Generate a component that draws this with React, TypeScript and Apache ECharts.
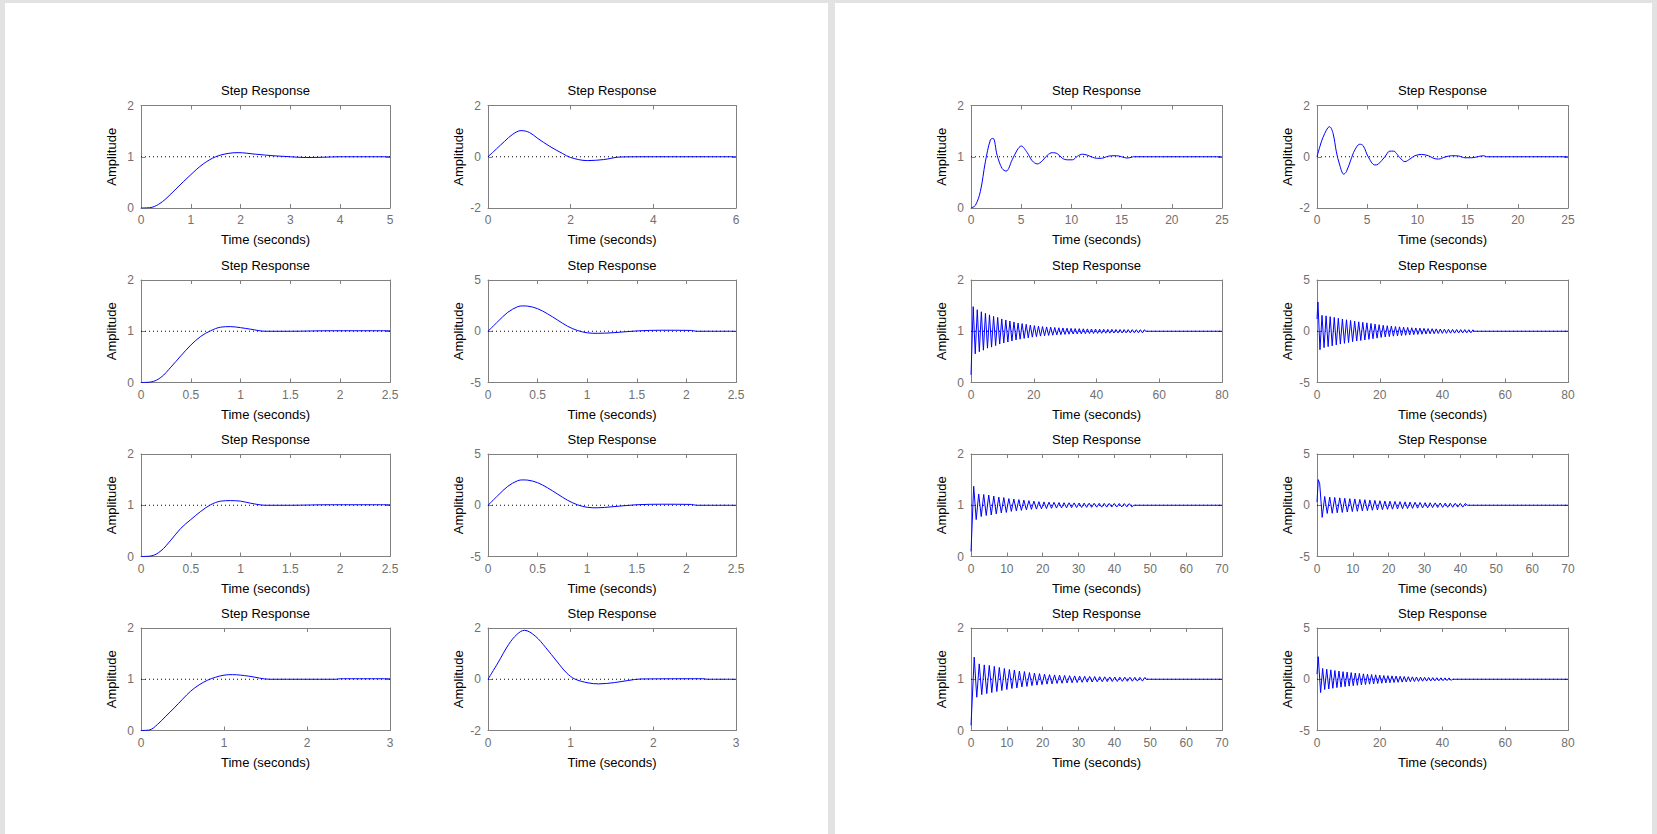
import React, { useEffect, useRef } from "react";
import * as echarts from "echarts";

// ---------- data ----------
const TITLE = "Step Response";
const X_NAME = "Time (seconds)";
const Y_NAME = "Amplitude";

// left figure
const A_T = [0, 0.2, 0.35, 0.5, 0.7, 1.0, 1.25, 1.5, 1.75, 1.95, 2.3, 2.65, 3.0, 3.3, 3.65, 4.0, 5.0];
const A_Y = [0, 0.01, 0.07, 0.18, 0.37, 0.65, 0.86, 1.0, 1.065, 1.08, 1.05, 1.02, 1.0, 0.985, 0.99, 1.0, 1.0];

const B_T = [0, 0.2, 0.4, 0.6, 0.8, 1.0, 1.2, 1.5, 1.8, 2.0, 2.4, 2.8, 3.2, 4.0, 6.0];
const B_Y = [0, 0.3, 0.6, 0.88, 1.02, 0.95, 0.72, 0.4, 0.13, -0.03, -0.15, -0.11, -0.01, 0, 0];

const C_T = [0, 0.1, 0.2, 0.3, 0.4, 0.5, 0.6, 0.7, 0.8, 0.9, 1.0, 1.1, 1.25, 1.5, 1.9, 2.5];
const C_Y = [0, 0.01, 0.1, 0.3, 0.52, 0.73, 0.9, 1.01, 1.08, 1.09, 1.07, 1.04, 1.0, 1.0, 1.01, 1.01];

const D_T = [0, 0.1, 0.2, 0.3, 0.35, 0.4, 0.5, 0.6, 0.7, 0.8, 0.9, 1.0, 1.1, 1.25, 1.5, 1.75, 2.05, 2.1, 2.5];
const D_Y = [0, 0.95, 1.85, 2.4, 2.47, 2.45, 2.2, 1.7, 1.1, 0.5, 0.08, -0.15, -0.2, -0.15, 0.03, 0.1, 0.08, 0, 0];

const E_T = [0, 0.1, 0.2, 0.3, 0.4, 0.5, 0.6, 0.7, 0.8, 0.9, 1.0, 1.1, 1.25, 1.5, 1.9, 2.5];
const E_Y = [0, 0.01, 0.11, 0.32, 0.55, 0.72, 0.88, 1.01, 1.08, 1.09, 1.08, 1.04, 1.0, 1.0, 1.01, 1.01];

const F_T = [0, 0.1, 0.2, 0.3, 0.35, 0.4, 0.5, 0.6, 0.7, 0.8, 0.9, 1.0, 1.1, 1.25, 1.5, 1.75, 2.05, 2.1, 2.5];
const F_Y = [0, 0.95, 1.85, 2.4, 2.47, 2.45, 2.2, 1.7, 1.1, 0.5, 0.05, -0.2, -0.25, -0.15, 0.05, 0.1, 0.08, 0, 0];

const G_T = [0, 0.1, 0.2, 0.3, 0.4, 0.5, 0.6, 0.7, 0.8, 0.9, 1.0, 1.1, 1.3, 1.55, 2.35, 2.4, 3];
const G_Y = [0, 0.01, 0.12, 0.28, 0.44, 0.61, 0.77, 0.89, 0.98, 1.04, 1.08, 1.09, 1.06, 1.0, 1.0, 1.01, 1.01];

const H_T = [0, 0.12, 0.25, 0.35, 0.44, 0.57, 0.7, 0.83, 0.95, 1.05, 1.21, 1.34, 1.53, 1.69, 1.85, 2.6, 2.65, 3];
const H_Y = [0, 0.64, 1.36, 1.75, 1.91, 1.69, 1.23, 0.71, 0.25, 0.01, -0.14, -0.18, -0.13, -0.05, 0.01, 0.02, 0, 0];

// right figure
const I_T = [0, 0.43, 0.93, 1.43, 1.93, 2.2, 2.6, 3.1, 3.5, 4.1, 4.6, 5.0, 5.6, 6.1, 6.6, 7.1, 7.6, 8.1, 8.6, 9.1, 9.6, 10.1, 10.6, 11.1, 11.6, 12.1, 12.5, 13.0, 13.5, 14.0, 14.5, 15.0, 15.5, 16.0, 16.2, 25];
const I_Y = [0, 0.05, 0.32, 0.9, 1.33, 1.36, 1.03, 0.77, 0.72, 0.94, 1.13, 1.21, 1.08, 0.92, 0.86, 0.92, 1.03, 1.08, 1.06, 0.97, 0.94, 0.94, 1.01, 1.05, 1.03, 0.99, 0.97, 0.97, 1.0, 1.02, 1.02, 1.0, 0.975, 0.99, 1.0, 1.0];

const J_T = [0, 0.43, 0.77, 1.1, 1.26, 1.6, 1.93, 2.26, 2.66, 2.93, 3.36, 3.76, 4.26, 4.6, 5.1, 5.76, 6.1, 6.76, 7.26, 7.6, 8.26, 8.76, 9.25, 9.75, 10.4, 11.1, 11.6, 12.1, 12.75, 13.4, 14.1, 14.75, 15.4, 16.1, 16.6, 16.9, 25];
const J_Y = [0, 0.58, 0.91, 1.14, 1.17, 0.91, 0.19, -0.32, -0.68, -0.58, -0.13, 0.26, 0.49, 0.43, 0, -0.32, -0.29, 0, 0.22, 0.22, -0.04, -0.19, -0.09, 0.04, 0.09, 0.04, -0.06, -0.09, -0.01, 0.04, 0.03, -0.04, -0.04, 0.01, 0.04, 0, 0];

const K_T = [0, 0.7, 1.35, 2.0, 2.65, 3.3, 3.95, 4.6, 5.25, 5.9, 6.55, 7.2, 7.85, 8.5, 9.15, 9.8, 10.45, 11.1, 11.75, 12.4, 13.05, 13.7, 14.35, 15.0, 15.65, 16.3, 16.95, 17.6, 18.25, 18.9, 19.55, 20.2, 20.85, 21.5, 22.15, 22.8, 23.45, 24.1, 24.75, 25.4, 26.05, 26.7, 27.35, 28.0, 28.65, 29.3, 29.95, 30.6, 31.25, 31.9, 32.55, 33.2, 33.85, 34.5, 35.15, 35.8, 36.45, 37.1, 37.75, 38.4, 39.05, 39.7, 40.35, 41.0, 41.65, 42.3, 42.95, 43.6, 44.25, 44.9, 45.55, 46.2, 46.85, 47.5, 48.15, 48.8, 49.45, 50.1, 50.75, 51.4, 52.05, 52.7, 53.35, 54.0, 54.65, 55.3, 55.6, 80];
const K_Y = [0.15, 1.48, 0.56, 1.42, 0.6, 1.38, 0.63, 1.35, 0.67, 1.32, 0.69, 1.29, 0.72, 1.27, 0.75, 1.24, 0.77, 1.22, 0.79, 1.2, 0.81, 1.18, 0.83, 1.16, 0.845, 1.15, 0.86, 1.135, 0.87, 1.12, 0.885, 1.11, 0.895, 1.1, 0.905, 1.09, 0.912, 1.085, 0.918, 1.08, 0.923, 1.074, 0.929, 1.068, 0.934, 1.064, 0.938, 1.06, 0.942, 1.056, 0.946, 1.053, 0.948, 1.051, 0.95, 1.048, 0.953, 1.046, 0.955, 1.044, 0.957, 1.042, 0.959, 1.04, 0.96, 1.039, 0.962, 1.037, 0.963, 1.036, 0.965, 1.035, 0.966, 1.034, 0.967, 1.033, 0.968, 1.032, 0.969, 1.031, 0.97, 1.03, 0.97, 1.03, 0.97, 1.03, 1.0, 1.0];

const L_T = [0, 0.3, 0.95, 1.6, 2.25, 2.9, 3.55, 4.2, 4.85, 5.5, 6.15, 6.8, 7.45, 8.1, 8.75, 9.4, 10.05, 10.7, 11.35, 12.0, 12.65, 13.3, 13.95, 14.6, 15.25, 15.9, 16.55, 17.2, 17.85, 18.5, 19.15, 19.8, 20.45, 21.1, 21.75, 22.4, 23.05, 23.7, 24.35, 25.0, 25.65, 26.3, 26.95, 27.6, 28.25, 28.9, 29.55, 30.2, 30.85, 31.5, 32.15, 32.8, 33.45, 34.1, 34.75, 35.4, 36.05, 36.7, 37.35, 38.0, 38.65, 39.3, 39.95, 40.6, 41.25, 41.9, 42.55, 43.2, 43.85, 44.5, 45.15, 45.8, 46.45, 47.1, 47.75, 48.4, 49.05, 49.7, 50.0, 80];
const L_Y = [1.2, 2.85, -1.8, 1.55, -1.6, 1.5, -1.5, 1.42, -1.42, 1.35, -1.33, 1.27, -1.25, 1.2, -1.18, 1.12, -1.1, 1.05, -1.02, 0.98, -0.95, 0.92, -0.9, 0.87, -0.85, 0.82, -0.79, 0.76, -0.73, 0.7, -0.67, 0.64, -0.6, 0.58, -0.56, 0.54, -0.52, 0.5, -0.48, 0.46, -0.45, 0.43, -0.42, 0.4, -0.39, 0.37, -0.36, 0.34, -0.33, 0.32, -0.31, 0.3, -0.29, 0.28, -0.27, 0.26, -0.25, 0.25, -0.24, 0.23, -0.22, 0.22, -0.21, 0.2, -0.2, 0.19, -0.19, 0.18, -0.18, 0.17, -0.17, 0.16, -0.16, 0.16, -0.15, 0.15, -0.15, 0.14, 0, 0];

const M_T = [0, 0.75, 1.45, 2.15, 2.85, 3.55, 4.25, 4.95, 5.65, 6.35, 7.05, 7.75, 8.45, 9.15, 9.85, 10.55, 11.25, 11.95, 12.65, 13.35, 14.05, 14.75, 15.45, 16.15, 16.85, 17.55, 18.25, 18.95, 19.65, 20.35, 21.05, 21.75, 22.45, 23.15, 23.85, 24.55, 25.25, 25.95, 26.65, 27.35, 28.05, 28.75, 29.45, 30.15, 30.85, 31.55, 32.25, 32.95, 33.65, 34.35, 35.05, 35.75, 36.45, 37.15, 37.85, 38.55, 39.25, 39.95, 40.65, 41.35, 42.05, 42.75, 43.45, 44.15, 44.85, 45.4, 70];
const M_Y = [0.1, 1.37, 0.72, 1.22, 0.78, 1.21, 0.8, 1.2, 0.81, 1.18, 0.83, 1.16, 0.85, 1.15, 0.86, 1.13, 0.88, 1.12, 0.89, 1.11, 0.9, 1.1, 0.91, 1.09, 0.92, 1.08, 0.925, 1.07, 0.93, 1.065, 0.935, 1.06, 0.94, 1.057, 0.945, 1.053, 0.948, 1.05, 0.95, 1.048, 0.953, 1.046, 0.955, 1.044, 0.957, 1.042, 0.959, 1.04, 0.96, 1.039, 0.962, 1.038, 0.963, 1.037, 0.964, 1.036, 0.965, 1.035, 0.966, 1.034, 0.967, 1.033, 0.968, 1.032, 0.969, 1.0, 1.0];

const N_T = [0, 0.35, 0.75, 1.45, 2.15, 2.85, 3.55, 4.25, 4.95, 5.65, 6.35, 7.05, 7.75, 8.45, 9.15, 9.85, 10.55, 11.25, 11.95, 12.65, 13.35, 14.05, 14.75, 15.45, 16.15, 16.85, 17.55, 18.25, 18.95, 19.65, 20.35, 21.05, 21.75, 22.45, 23.15, 23.85, 24.55, 25.25, 25.95, 26.65, 27.35, 28.05, 28.75, 29.45, 30.15, 30.85, 31.55, 32.25, 32.95, 33.65, 34.35, 35.05, 35.75, 36.45, 37.15, 37.85, 38.55, 39.25, 39.95, 40.65, 41.35, 41.9, 70];
const N_Y = [0.3, 2.5, 2.1, -1.18, 0.85, -0.8, 0.8, -0.78, 0.76, -0.74, 0.72, -0.7, 0.68, -0.66, 0.64, -0.62, 0.61, -0.59, 0.57, -0.55, 0.54, -0.52, 0.5, -0.49, 0.47, -0.46, 0.44, -0.43, 0.41, -0.4, 0.39, -0.38, 0.37, -0.36, 0.35, -0.34, 0.33, -0.32, 0.31, -0.3, 0.29, -0.28, 0.27, -0.26, 0.25, -0.25, 0.24, -0.23, 0.23, -0.22, 0.22, -0.21, 0.21, -0.2, 0.2, -0.19, 0.19, -0.18, 0.18, -0.18, 0.17, 0, 0];

const O_T = [0, 0.9, 1.6, 2.3, 3.0, 3.7, 4.4, 5.1, 5.8, 6.5, 7.2, 7.9, 8.6, 9.3, 10.0, 10.7, 11.4, 12.1, 12.8, 13.5, 14.2, 14.9, 15.6, 16.3, 17.0, 17.7, 18.4, 19.1, 19.8, 20.5, 21.2, 21.9, 22.6, 23.3, 24.0, 24.7, 25.4, 26.1, 26.8, 27.5, 28.2, 28.9, 29.6, 30.3, 31.0, 31.7, 32.4, 33.1, 33.8, 34.5, 35.2, 35.9, 36.6, 37.3, 38.0, 38.7, 39.4, 40.1, 40.8, 41.5, 42.2, 42.9, 43.6, 44.3, 45.0, 45.7, 46.4, 47.1, 47.8, 48.5, 48.8, 70];
const O_Y = [0.1, 1.43, 0.65, 1.3, 0.7, 1.28, 0.72, 1.27, 0.74, 1.25, 0.76, 1.23, 0.78, 1.21, 0.8, 1.19, 0.82, 1.18, 0.83, 1.16, 0.85, 1.15, 0.86, 1.13, 0.875, 1.12, 0.885, 1.11, 0.895, 1.1, 0.905, 1.09, 0.91, 1.085, 0.918, 1.08, 0.922, 1.075, 0.927, 1.07, 0.932, 1.066, 0.936, 1.062, 0.94, 1.058, 0.943, 1.055, 0.946, 1.052, 0.95, 1.049, 0.952, 1.047, 0.954, 1.045, 0.956, 1.043, 0.958, 1.042, 0.959, 1.04, 0.96, 1.039, 0.962, 1.038, 0.963, 1.037, 0.964, 1.036, 1.0, 1.0];

const P_T = [0, 0.4, 1.15, 1.8, 2.45, 3.1, 3.75, 4.4, 5.05, 5.7, 6.35, 7.0, 7.65, 8.3, 8.95, 9.6, 10.25, 10.9, 11.55, 12.2, 12.85, 13.5, 14.15, 14.8, 15.45, 16.1, 16.75, 17.4, 18.05, 18.7, 19.35, 20.0, 20.65, 21.3, 21.95, 22.6, 23.25, 23.9, 24.55, 25.2, 25.85, 26.5, 27.15, 27.8, 28.45, 29.1, 29.75, 30.4, 31.05, 31.7, 32.35, 33.0, 33.65, 34.3, 34.95, 35.6, 36.25, 36.9, 37.55, 38.2, 38.85, 39.5, 40.15, 40.8, 41.45, 42.1, 42.75, 43.1, 80];
const P_Y = [0.5, 2.2, -1.3, 1.05, -1.0, 0.98, -0.95, 0.92, -0.88, 0.85, -0.82, 0.8, -0.77, 0.74, -0.72, 0.7, -0.67, 0.65, -0.63, 0.61, -0.59, 0.57, -0.55, 0.53, -0.51, 0.5, -0.48, 0.46, -0.45, 0.43, -0.42, 0.4, -0.39, 0.37, -0.36, 0.35, -0.34, 0.33, -0.32, 0.31, -0.3, 0.29, -0.28, 0.27, -0.26, 0.25, -0.24, 0.23, -0.22, 0.22, -0.21, 0.2, -0.19, 0.19, -0.18, 0.17, -0.17, 0.16, -0.16, 0.15, -0.15, 0.14, -0.14, 0.13, -0.13, 0.13, -0.12, 0, 0];

// axis ranges / ticks and steady-state reference values
const X_MAX = [5, 6, 2.5, 2.5, 2.5, 2.5, 3, 3, 25, 25, 80, 80, 70, 70, 70, 80];
const X_INT = [1, 2, 0.5, 0.5, 0.5, 0.5, 1, 1, 5, 5, 20, 20, 10, 10, 10, 20];
const Y_MIN = [0, -2, 0, -5, 0, -5, 0, -2, 0, -2, 0, -5, 0, -5, 0, -5];
const Y_MAX = [2, 2, 2, 5, 2, 5, 2, 2, 2, 2, 2, 5, 2, 5, 2, 5];
const Y_INT = [1, 2, 1, 5, 1, 5, 1, 2, 1, 2, 1, 5, 1, 5, 1, 5];
const REF = [1, 0, 1, 0, 1, 0, 1, 0, 1, 0, 1, 0, 1, 0, 1, 0];
const TIMES = [A_T, B_T, C_T, D_T, E_T, F_T, G_T, H_T, I_T, J_T, K_T, L_T, M_T, N_T, O_T, P_T];
const VALUES = [A_Y, B_Y, C_Y, D_Y, E_Y, F_Y, G_Y, H_Y, I_Y, J_Y, K_Y, L_Y, M_Y, N_Y, O_Y, P_Y];
// plot i -> [row, col]
const ROW_OF = [0, 0, 1, 1, 2, 2, 3, 3, 0, 0, 1, 1, 2, 2, 3, 3];
const COL_OF = [0, 1, 0, 1, 0, 1, 0, 1, 2, 3, 2, 3, 2, 3, 2, 3];

// ---------- layout ----------
const W = 1657;
const H = 834;
const COL_LEFT = [141, 488, 971, 1317];
const COL_W = [249, 248, 251, 251];
const ROW_TOP = [105.5, 280, 454, 628];
const ROW_H = 102.5;
const FONT = "'Liberation Sans', Arial, Helvetica, sans-serif";
const BOX = "#808080";
const TICK_TXT = "#707070";

function buildOption() {
  const grid: any[] = [];
  const xAxis: any[] = [];
  const yAxis: any[] = [];
  const series: any[] = [];
  const graphic: any[] = [
    { type: "rect", z: -10, shape: { x: 0, y: 0, width: W, height: H }, style: { fill: "#e2e2e2" } },
    { type: "rect", z: -9, shape: { x: 5, y: 3, width: 823, height: H - 3 }, style: { fill: "#ffffff" } },
    { type: "rect", z: -9, shape: { x: 835, y: 3, width: 817, height: H - 3 }, style: { fill: "#ffffff" } },
  ];

  for (let i = 0; i < 16; i++) {
    const r = ROW_OF[i];
    const c = COL_OF[i];
    const left = COL_LEFT[c];
    const width = COL_W[c];
    const top = ROW_TOP[r];
    grid.push({ left, top, width, height: ROW_H, containLabel: false });

    const baseX = {
      type: "value",
      gridIndex: i,
      min: 0,
      max: X_MAX[i],
      interval: X_INT[i],
      splitLine: { show: false },
      axisLine: { show: true, onZero: false, lineStyle: { color: BOX, width: 1 } },
      axisTick: { show: true, inside: true, length: 4, lineStyle: { color: BOX } },
    };
    xAxis.push({
      ...baseX,
      position: "bottom",
      axisLabel: { show: true, color: TICK_TXT, fontSize: 12, fontFamily: FONT, margin: 6 },
      name: X_NAME,
      nameLocation: "middle",
      nameGap: 25,
      nameTextStyle: { color: "#000", fontSize: 13, fontFamily: FONT },
    });
    xAxis.push({ ...baseX, position: "top", axisLabel: { show: false } });

    const baseY = {
      type: "value",
      gridIndex: i,
      min: Y_MIN[i],
      max: Y_MAX[i],
      interval: Y_INT[i],
      splitLine: { show: false },
      axisLine: { show: true, onZero: false, lineStyle: { color: BOX, width: 1 } },
      axisTick: { show: true, inside: true, length: 4, lineStyle: { color: BOX } },
    };
    yAxis.push({
      ...baseY,
      position: "left",
      axisLabel: { show: true, color: TICK_TXT, fontSize: 12, fontFamily: FONT, margin: 7 },
      name: Y_NAME,
      nameLocation: "middle",
      nameGap: 23,
      nameTextStyle: { color: "#000", fontSize: 13, fontFamily: FONT },
    });
    yAxis.push({ ...baseY, position: "right", axisLabel: { show: false } });

    series.push({
      type: "line",
      xAxisIndex: 2 * i,
      yAxisIndex: 2 * i,
      data: [
        [0, REF[i]],
        [X_MAX[i], REF[i]],
      ],
      symbol: "none",
      silent: true,
      z: 1,
      lineStyle: { color: "#000", width: 1, type: [1, 3] },
    });

    const ts = TIMES[i];
    const vs = VALUES[i];
    const n = Math.min(ts.length, vs.length);
    const pts: number[][] = [];
    for (let k = 0; k < n; k++) pts.push([ts[k], vs[k]]);
    series.push({
      type: "line",
      xAxisIndex: 2 * i,
      yAxisIndex: 2 * i,
      data: pts,
      symbol: "none",
      silent: true,
      z: 2,
      smooth: i < 10 ? 0.35 : false,
      lineStyle: { color: "#0000ff", width: 1 },
    });

    graphic.push({
      type: "text",
      x: left + width / 2,
      y: top - 15,
      style: {
        text: TITLE,
        fill: "#000",
        font: `13px ${FONT}`,
        align: "center",
        verticalAlign: "middle",
        textAlign: "center",
        textVerticalAlign: "middle",
      },
    });
  }

  return {
    animation: false,
    backgroundColor: "#ffffff",
    grid,
    xAxis,
    yAxis,
    series,
    graphic,
  };
}

export default function App() {
  const ref = useRef<HTMLDivElement>(null);
  useEffect(() => {
    if (!ref.current) return;
    const chart = echarts.init(ref.current, null, { renderer: "svg" });
    chart.setOption(buildOption() as any);
    return () => chart.dispose();
  }, []);
  return (
    <div
      ref={ref}
      style={{ position: "fixed", left: 0, top: 0, width: W, height: H }}
    />
  );
}
